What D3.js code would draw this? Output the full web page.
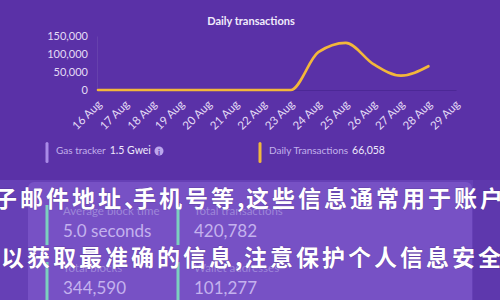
<!DOCTYPE html>
<html><head><meta charset="utf-8">
<script src="https://cdn.jsdelivr.net/npm/d3@7/dist/d3.min.js"></script>
<style>
html,body{margin:0;padding:0;background:#5a31a7;}
svg{display:block;}
</style></head>
<body>
<svg id="c" width="500" height="300"></svg>
<script>
// ---- data ----
const dates = ["16 Aug","17 Aug","18 Aug","19 Aug","20 Aug","21 Aug","22 Aug","23 Aug","24 Aug","25 Aug","26 Aug","27 Aug","28 Aug","29 Aug"];
const txValues = [0,0,0,0,0,0,0,0,105000,131000,72000,40000,66058];
const yTicks = [0,50000,100000,150000];
const chartTitle = "Daily transactions";
const infoLabels = ["Gas tracker","Daily Transactions"];
const infoValues = ["1.5 Gwei","66,058"];
const statLabels = ["Average block time","Total transactions","Total blocks","Wallet addresses"];
const statValues = ["5.0 seconds","420,782","344,590","101,277"];
const overlayLines = ["子邮件地址、手机号等,这些信息通常用于账户","以获取最准确的信息,注意保护个人信息安全"];

const svg = d3.select("#c");
const FONT = "Lato, 'Open Sans', sans-serif";

// background
svg.append("rect").attr("width",500).attr("height",300).attr("fill","#5a31a7");
// lower band
svg.append("rect").attr("x",0).attr("y",180).attr("width",500).attr("height",120).attr("fill","#6640b6");
svg.append("rect").attr("x",28).attr("y",182).attr("width",444).attr("height",130).attr("rx",6).attr("fill","#7751c5");
svg.append("rect").attr("x",473).attr("y",180).attr("width",27).attr("height",120).attr("fill","#5e38ad");

// ---- chart ----
const x = d3.scalePoint().domain(dates).range([98,456]);
const y = d3.scaleLinear().domain([0,150000]).range([90,36]);

svg.append("text").attr("x",251).attr("y",25).attr("text-anchor","middle")
  .attr("font-family",FONT).attr("font-weight","bold").attr("font-size",11)
  .attr("fill","#f1ecfb").text(chartTitle);

const gy = svg.append("g").attr("transform","translate(97,0)")
  .call(d3.axisLeft(y).tickValues(yTicks).tickFormat(d3.format(",")).tickSize(0).tickPadding(9));
gy.select(".domain").attr("stroke","#ffffff").attr("stroke-opacity",0.08);
gy.selectAll("text").attr("font-family",FONT).attr("font-size",11).attr("fill","#e4dcf6");

const gx = svg.append("g").attr("transform","translate(0,90)")
  .call(d3.axisBottom(x).tickSize(0).tickPadding(0));
gx.select(".domain").attr("stroke","#3e1f86").attr("stroke-opacity",0.5);
gx.selectAll("text").attr("font-family",FONT).attr("font-size",11.5).attr("fill","#e4dcf6")
  .attr("text-anchor","end").attr("dy",0)
  .attr("transform","translate(4,15) rotate(-45)");

const line = d3.line().x((d,i)=>x(dates[i])).y(d=>y(d)).curve(d3.curveMonotoneX);
svg.append("path").datum(txValues).attr("d",line).attr("fill","none")
  .attr("stroke","#f3b73b").attr("stroke-width",2.6).attr("stroke-linecap","round");

// ---- info row ----
const infoBarColors = ["#a98ae8","#f0b73e"];
const infoX = [47,260];
infoX.forEach((bx,i)=>{
  svg.append("rect").attr("x",bx-1.5).attr("y",142).attr("width",3).attr("height",21).attr("rx",1.5).attr("fill",infoBarColors[i]);
  const t = svg.append("text").attr("x",bx+9).attr("y",154).attr("font-family",FONT);
  t.append("tspan").attr("font-size",10).attr("fill","#c3b1ec").text(infoLabels[i]);
  t.append("tspan").attr("dx",4).attr("font-size",10.5).attr("fill","#efe9fb").text(infoValues[i]);
});
svg.append("circle").attr("cx",159).attr("cy",151).attr("r",4.5).attr("fill","#bba6ec");
svg.append("text").attr("x",159).attr("y",154.5).attr("text-anchor","middle").attr("font-family",FONT)
  .attr("font-weight","bold").attr("font-size",8).attr("fill","#5a31a7").text("i");

// ---- stat cards ----
const cardX = [47,178];
const cardY = [205,262];
statLabels.forEach((lab,i)=>{
  const cx = cardX[i%2], cy = cardY[Math.floor(i/2)];
  svg.append("rect").attr("x",cx-1.5).attr("y",cy).attr("width",3).attr("height",40).attr("fill","#7ccfbf");
  svg.append("text").attr("x",cx+16).attr("y",cy+10).attr("font-family",FONT).attr("font-size",11.5)
    .attr("fill","#9e86d9").text(lab);
  svg.append("text").attr("x",cx+16).attr("y",cy+32).attr("font-family",FONT).attr("font-size",17)
    .attr("fill","#c4b2ee").text(statValues[i]);
});

// ---- overlay Chinese text ----
const overlayStart = [-6,1];
const overlayY = [197,256];
const punct = "、,，";
overlayLines.forEach((str,li)=>{
  let cx = overlayStart[li];
  const g = svg.append("g");
  Array.from(str).forEach(ch=>{
    g.append("text").attr("x",cx).attr("y",overlayY[li]).attr("dominant-baseline","central")
      .attr("font-family","'Noto Sans CJK SC', sans-serif").attr("font-weight","bold")
      .attr("font-size",23).attr("fill","#ffffff")
      .attr("style","paint-order:stroke;stroke:rgba(60,30,110,0.35);stroke-width:1px")
      .text(ch);
    cx += punct.includes(ch) ? 9 : 26;
  });
});
</script>
</body></html>
